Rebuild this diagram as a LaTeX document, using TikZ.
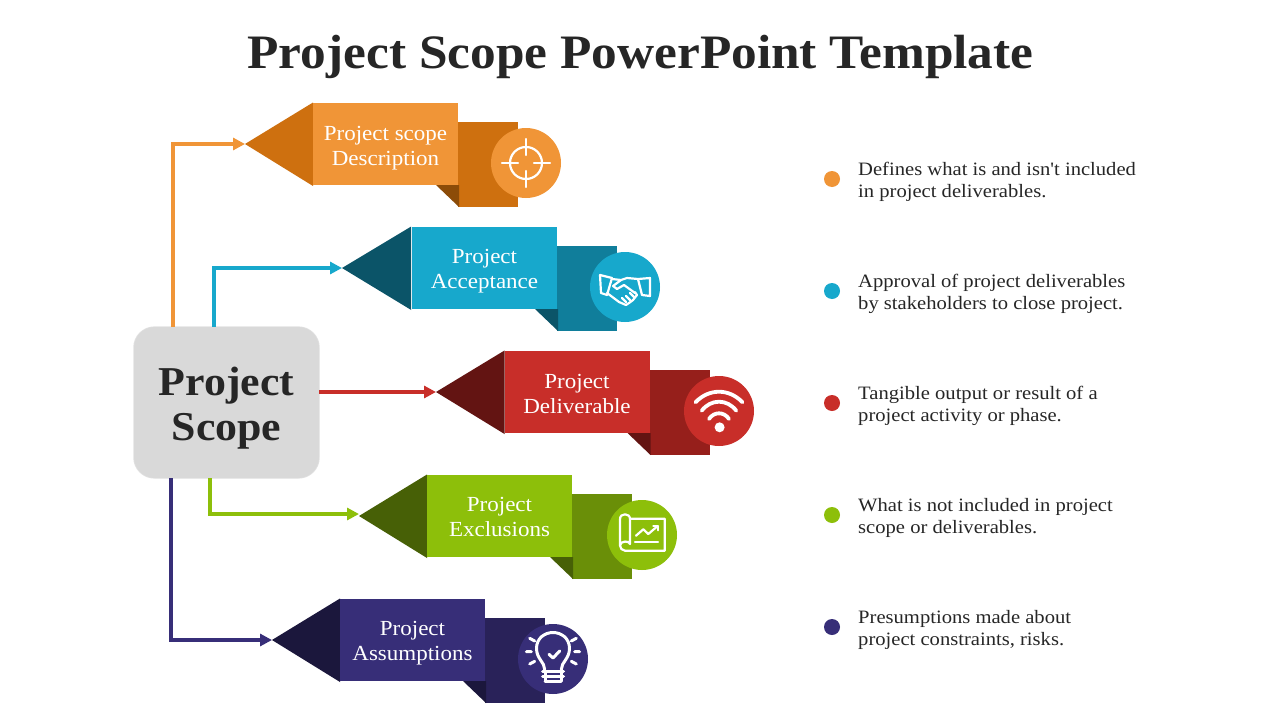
\documentclass[tikz,border=0pt]{standalone}
\usepackage{fontspec}
\setmainfont{Liberation Serif}[FakeStretch=1.07]
\newfontfamily\notefont{Liberation Serif}[FakeStretch=1.09]
\usetikzlibrary{arrows.meta,shadows,calc}
\definecolor{inkc}{HTML}{262626}
\definecolor{oA}{HTML}{F09537}\definecolor{oB}{HTML}{CE700F}\definecolor{oC}{HTML}{8C4C08}
\definecolor{bA}{HTML}{17A8CC}\definecolor{bB}{HTML}{107E9B}\definecolor{bC}{HTML}{0B5468}
\definecolor{rA}{HTML}{C82E29}\definecolor{rB}{HTML}{961F1B}\definecolor{rC}{HTML}{631412}
\definecolor{gA}{HTML}{8DBF0A}\definecolor{gB}{HTML}{6A8F08}\definecolor{gC}{HTML}{476006}
\definecolor{pA}{HTML}{372E78}\definecolor{pB}{HTML}{292259}\definecolor{pC}{HTML}{1B173C}
\tikzset{
  x=1pt,y=-1pt,
  link/.style={line width=4pt,-{Triangle[length=12pt,width=12pt]}},
  lbl/.style={text=white,align=center,font=\fontsize{21.5}{25}\selectfont,inner sep=0pt},
  note/.style={text=inkc,align=left,anchor=west,font=\notefont\fontsize{18.9}{22}\selectfont,inner sep=0pt},
  dotn/.style={circle,minimum size=16pt,inner sep=0pt},
  disc/.style={circle,minimum size=70pt,inner sep=0pt},
  ico/.style={draw=white,line width=2.2pt,line cap=round,line join=round},
}
% #1 name, #2 tip x, #3 tip y, #4 front, #5 back, #6 fold, #7 text, #8 body left, #9 head colour
\newcommand{\banner}[9]{%
  \fill[#5] ({#8+145},{#3-22}) rectangle ({#8+205},{#3+63});
  \fill[#6] ({#8+123},{#3+41}) -- ({#8+146},{#3+41}) -- ({#8+146},{#3+63}) -- cycle;
  \fill[#9] (#2,#3) -- ({#8-\seamgap},{#3-41.5}) -- ({#8-\seamgap},{#3+42}) -- cycle;
  \fill[#4] (#8,{#3-41}) rectangle ({#8+145},{#3+41});
  \coordinate (#1) at (#2,#3);
  \node[lbl] (#1t) at ({#8+72.5},{#3+\labeldrop}) {#7};
  \node[disc,fill=#4] (#1c) at ({#8+213+\discshift},{#3+19}) {};
}
\begin{document}
\begin{tikzpicture}
\useasboundingbox (0,0) rectangle (1280,720);
\fill[white] (0,0) rectangle (1280,720);
\node[text=inkc,inner sep=0pt,font=\fontsize{48}{50}\selectfont\bfseries] (title) at (640.5,57) {Project Scope PowerPoint Template};

\def\seamgap{0}
\def\discshift{0}
\def\labeldrop{4.5}
\banner{o}{245}{144}{oA}{oB}{oC}{Project scope\\Description}{313}{oB}
\def\seamgap{0.8}
\def\labeldrop{3.5}
\banner{b}{342}{268}{bA}{bB}{bC}{Project\\Acceptance}{412}{bC}
\def\seamgap{0}
\def\discshift{1.5}
\def\labeldrop{1.5}
\banner{r}{436}{392}{rA}{rB}{rC}{Project\\Deliverable}{504.5}{rC}
\def\discshift{2}
\def\labeldrop{0.5}
\banner{g}{359}{516}{gA}{gB}{gC}{Project\\Exclusions}{427}{gC}
\def\discshift{0}
\def\labeldrop{3.5}
\banner{p}{272}{640}{pA}{pB}{pC}{Project\\Assumptions}{340}{pC}
\coordinate (ga) at (359,514);

\node[rounded corners=21pt,fill=black!15,minimum width=185pt,minimum height=151pt,inner sep=0pt,
  drop shadow={shadow xshift=0pt,shadow yshift=0pt,shadow scale=1.008,opacity=.12,fill=black}] (hub) at (226.5,402.5) {};
\node[align=center,text=inkc,inner sep=0pt,font=\fontsize{41}{45}\selectfont\bfseries] (hubt) at (226.5,408) {Project\\Scope};

\draw[link,oA] ([xshift=-53.5pt]hub.north) |- (o);
\draw[link,bA] ([xshift=-12.5pt]hub.north) |- (b);
\draw[link,rA] (hub.east |- r) -- (r);
\draw[link,gA] ([xshift=-16.5pt]hub.south) |- (ga);
\draw[link,pA] ([xshift=-55.5pt]hub.south) |- (p);

% target icon
\begin{scope}[shift={(oc.center)},ico]
  \draw (0,0) circle (16);
  \draw (-24,0) -- (-8,0) (8,0) -- (24,0) (0,-24) -- (0,-8) (0,8) -- (0,24);
\end{scope}
% handshake icon
\begin{scope}[shift={(bc.center)},ico]
  \draw (-25,-12) -- (-13,-9) -- (-18,8) -- (-24,6) -- cycle;
  \draw (13,-8) -- (25,-9) -- (25,9) -- (17,8) -- cycle;
  \draw (-13,-8) -- (-4,-7) -- (2,-9) -- (13,-8);
  \draw (-4,-7) -- (-12,-1) -- (-8,2) -- (-1,-2) -- (10,6);
  \draw (-18,6) -- (-6,15) -- (1,18) -- (4,16) -- (8,13) -- (12,8) -- (10,5);
  \draw (-3,11) -- (1,15) (1,9) -- (5,13) (5,6) -- (9,10);
\end{scope}
% wifi icon
\begin{scope}[shift={(rc.center)},line width=3.8pt,line cap=round]
  \draw[white] (-23.5,-8.7) .. controls (-10,-22.8) and (10,-22.8) .. (23.5,-8.7);
  \draw[white] (-17.3,-0.3) .. controls (-8,-12.3) and (8,-12.3) .. (17.3,-0.3);
  \draw[white] (-10,8) .. controls (-5,0.4) and (5,0.4) .. (10,8);
  \fill[white] (0.6,16.3) circle (5);
\end{scope}
% blueprint icon
\begin{scope}[shift={(gc.center)},ico]
  \draw (-12,-16.3) -- (22.7,-16.3) -- (22.7,15.7) -- (-17,15.7)
    .. controls (-20,15.7) and (-22,13) .. (-22,10.5) -- (-22,-15.7)
    .. controls (-22,-19) and (-20,-20.7) .. (-17,-20.7)
    .. controls (-14,-20.7) and (-12,-19) .. (-12,-15.7) -- (-12,9)
    .. controls (-12,5.5) and (-22,5.5) .. (-22,10.5);
  \draw (-6,0.7) -- (1.3,-5.7) -- (6.3,-1) -- (15.7,-9);
  \draw (11.3,-9) -- (15.7,-9) -- (15.7,-4.7);
  \draw (-7,7.3) -- (16,7.3);
\end{scope}
% bulb icon
\begin{scope}[shift={(pc.center)},ico,line width=3pt]
  \draw (-8.3,10.5) .. controls (-8.3,3) and (-16.5,0) .. (-16.5,-10.7)
    .. controls (-16.5,-21) and (-8,-26.5) .. (0,-26.5)
    .. controls (8,-26.5) and (16.5,-21) .. (16.5,-10.7)
    .. controls (16.5,0) and (8.3,3) .. (8.3,10.5);
  \draw (-10.5,12) -- (10.5,12) (-10.5,17) -- (10.5,17) (-8,22) -- (8,22);
  \draw (-8,12) -- (-8,22) (8,12) -- (8,22);
  \draw (-4,-4.7) -- (0,-1) -- (6.7,-8);
  \draw (-26.7,-7.3) -- (-21.7,-7.3) (21.7,-7.3) -- (26.7,-7.3)
    (-23.3,-20.7) -- (-18.3,-18) (23.3,-20.7) -- (18.3,-18)
    (-23.3,5) -- (-18.3,2.3) (23.3,5) -- (18.3,2.3);
\end{scope}

% descriptions
\node[dotn,fill=oA] (d1) at (832,179) {};
\node[dotn,fill=bA] (d2) at (832,291) {};
\node[dotn,fill=rA] (d3) at (832,403) {};
\node[dotn,fill=gA] (d4) at (832,515) {};
\node[dotn,fill=pA] (d5) at (832,627) {};
\node[note] (n1) at (858,182) {Defines what is and isn't included\\in project deliverables.};
\node[note] (n2) at (858,294) {Approval of project deliverables\\by stakeholders to close project.};
\node[note] (n3) at (858,406) {Tangible output or result of a\\project activity or phase.};
\node[note] (n4) at (858,518) {What is not included in project\\scope or deliverables.};
\node[note] (n5) at (858,630) {Presumptions made about\\project constraints, risks.};
\end{tikzpicture}
\end{document}
